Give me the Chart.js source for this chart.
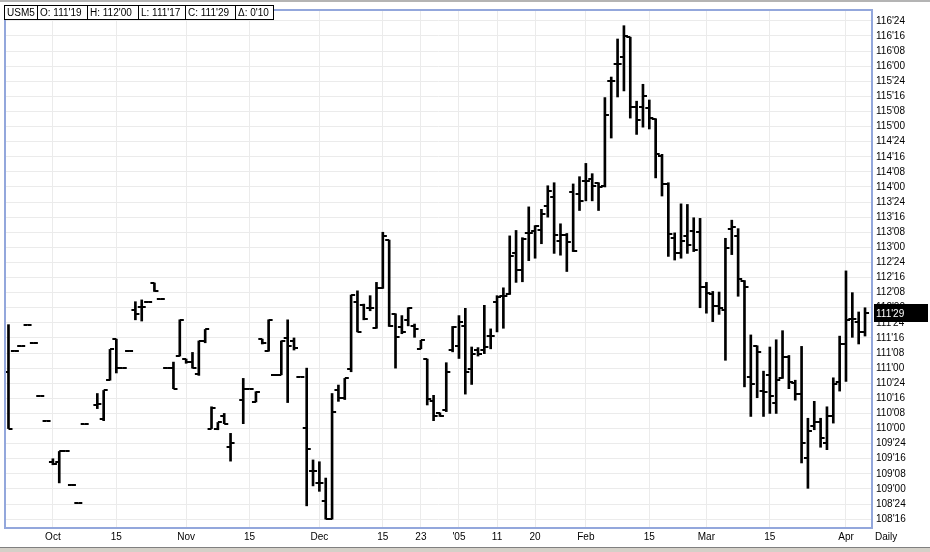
<!DOCTYPE html>
<html>
<head>
<meta charset="utf-8">
<script src="https://cdn.jsdelivr.net/npm/chart.js@4/dist/chart.umd.min.js"></script>
<style>
  html, body { margin: 0; padding: 0; background: #fff; }
  #wrap { width: 930px; height: 552px; }
</style>
</head>
<body>
<div id="wrap"><canvas id="chart" width="930" height="552"></canvas></div>
<script>
const symbol = "USM5";

// one entry per trading day, Sep 22 2004 .. Apr 6 2005 (null = no trade)
const opens = [
  110.93, 111.29, 111.36, 111.72, 111.41, 110.54, 110.13, 109.45, 109.45, 109.63,
  109.07, 108.76, 110.07, null, 110.39, 110.15, 110.8, 111.48, 111.0, 111.29,
  111.97, 112.02, 112.1, 112.41, 112.14, 111.0, 111.0, 111.2, 111.15, 111.1,
  110.9, 111.45, 110.0, 110.0, 110.2, 109.7, null, 110.48, 110.66, 110.44,
  111.48, 111.29, 110.89, 110.89, 111.5, 111.45, 110.86, 110.01, 109.3, 109.1,
  108.8, 108.5, 110.64, 110.5, 110.99, 112.1, 112.05, 112.0, 111.66, 112.32,
  113.12, 111.9, 111.68, 111.8, 111.7, 111.32, 111.15, 110.46, 110.25, 110.3,
  111.3, 111.37, 111.7, 110.99, 111.3, 111.3, 111.53, 112.1, 112.19, 112.22,
  112.9, 112.62, 113.23, 113.27, 113.29, 113.69, 113.84, 113.1, 113.2, 113.91,
  113.88, 114.1, 114.13, 114.07, 114.02, 115.75, 116.04, 116.15, 116.48, 115.33,
  115.33, 115.3, 115.13, 114.51, 114.05, 113.16, 112.91, 113.18, 113.27, 113.26,
  112.35, 112.22, 112.03, 111.97, 113.31, 113.18, 112.44, 110.85, 111.37, 110.62,
  110.89, 110.42, 110.83, 111.18, 110.76, 110.58, 109.51, 110.04, 110.1, 109.76,
  110.2, 110.77, 111.4, 111.81, 111.76, 111.59375
];
const highs = [
  111.72, 111.29, 111.36, 111.72, 111.41, 110.54, 110.13, 109.5, 109.62, 109.63,
  109.07, 108.76, 110.07, null, 110.58, 110.63, 111.31, 111.48, 111.0, 111.29,
  112.1, 112.13, 112.1, 112.41, 112.14, 111.0, 111.1, 111.8, 111.15, 111.26,
  111.45, 111.64, 110.36, 110.1, 110.25, 109.92, null, 110.83, 110.66, 110.61,
  111.48, 111.8, 110.89, 111.45, 111.8, 111.5, 110.86, 111.0, 109.48, 109.45,
  109.18, 110.58, 110.72, 110.83, 112.21, 112.28, 112.06, 112.2, 112.42, 113.25,
  113.12, 111.9, 111.87, 112.0, 111.73, 111.46, 111.15, 110.55, 110.26, 111.09,
  111.69, 111.87, 111.99, 111.35, 111.34, 112.04, 111.65, 112.2, 112.33, 113.19,
  113.28, 113.16, 113.67, 113.36, 113.63, 114.02, 114.07, 113.39, 113.23, 114.05,
  114.17, 114.39, 114.22, 114.07, 115.48, 115.82, 116.45, 116.67, 116.48, 115.42,
  115.7, 115.44, 115.13, 114.54, 114.07, 113.24, 113.72, 113.71, 113.49, 113.48,
  112.42, 112.27, 112.26, 113.15, 113.45, 113.31, 112.45, 111.55, 111.37, 110.95,
  111.35, 111.47, 111.62, 111.21, 110.8, 111.36, 110.17, 110.45, 110.17, 110.36,
  110.84, 111.53, 112.61, 112.25, 111.93, 112.0
];
const lows = [
  110.0, 111.29, 111.36, 111.72, 111.41, 110.54, 110.13, 109.4, 109.1, 109.63,
  109.07, 108.76, 110.07, null, 110.33, 110.13, 110.8, 110.92, 111.0, 111.29,
  111.8, 111.78, 112.1, 112.27, 112.14, 111.0, 110.66, 111.2, 111.08, 111.0,
  110.88, 111.42, 110.0, 109.98, 110.08, 109.46, null, 110.08, 110.66, 110.44,
  111.4, 111.28, 110.89, 110.89, 110.43, 111.3, 110.86, 108.72, 109.05, 108.96,
  108.5, 108.5, 110.45, 110.48, 110.94, 111.6, 111.8, 111.95, 111.66, 112.32,
  111.69, 111.0, 111.57, 111.7, 111.51, 111.32, 110.39, 110.13, 110.2, 110.28,
  111.27, 111.16, 110.57, 110.73, 111.2, 111.24, 111.32, 111.6, 111.66, 112.22,
  112.42, 112.43, 112.78, 112.82, 113.06, 113.5, 112.9, 112.87, 112.6, 112.93,
  113.61, 113.77, 113.77, 113.61, 114.0, 114.81, 115.49, 115.59, 115.14, 114.87,
  114.99, 114.96, 114.15, 113.85, 112.85, 112.79, 112.82, 112.9, 112.93, 112.0,
  111.91, 111.77, 111.89, 111.13, 112.88, 112.19, 110.69, 110.2, 110.51, 110.2,
  110.25, 110.25, 110.83, 110.66, 110.47, 109.43, 109.01, 109.98, 109.69, 109.65,
  110.09, 110.62, 110.78, 111.51, 111.4, 111.53125
];
const closes = [
  110.0, 111.29, 111.36, 111.72, 111.41, 110.54, 110.13, 109.42, 109.62, 109.63,
  109.07, 108.76, 110.07, null, 110.4, 110.63, 111.31, 111.0, 111.0, 111.29,
  111.9, 112.02, 112.1, 112.28, 112.14, 111.0, 110.66, 111.8, 111.1, 111.0,
  111.45, 111.64, 110.34, 110.1, 110.08, 109.76, null, 110.66, 110.66, 110.61,
  111.42, 111.8, 110.89, 111.45, 111.37, 111.34, 110.86, 109.66, 109.3, 109.1,
  108.5, 110.27, 110.5, 110.83, 112.21, 111.6, 111.82, 112.0, 112.32, 113.18,
  111.69, 111.51, 111.6, 112.0, 111.65, 111.46, 110.49, 110.2, 110.2, 110.93,
  111.68, 111.76, 110.94, 111.24, 111.24, 111.35, 111.53, 112.17, 112.19, 112.86,
  112.62, 113.14, 113.23, 113.36, 113.55, 113.94, 113.2, 113.2, 113.09, 112.94,
  113.76, 114.1, 114.02, 114.0, 115.19, 115.75, 116.04, 116.5, 115.33, 115.11,
  115.51, 115.14, 114.54, 114.05, 113.22, 112.91, 113.11, 113.04, 112.95, 112.35,
  112.24, 112.03, 111.99, 112.99, 113.34, 112.47, 112.35, 110.74, 111.26, 110.61,
  110.54, 110.8, 111.18, 110.77, 110.58, 109.76, 109.96, 110.1, 109.85, 110.2,
  110.74, 111.4, 111.79, 111.81, 111.59375, 111.90625
];

// date axis: bar index of each labelled day and its text
const tickIdx = [7, 17, 28, 38, 49, 59, 65, 71, 77, 83, 91, 101, 110, 120, 132];
const tickText = ["Oct", "15", "Nov", "15", "Dec", "15", "23", "'05", "11", "20", "Feb", "15", "Mar", "15", "Apr"];

// price axis, quoted in 32nds
const priceTickLo = 108.5;
const priceTickHi = 116.75;
const priceTickStep = 0.25;

const FONT = "'Liberation Sans', Arial, sans-serif";

function fmt32(v) {
  let w = Math.floor(v + 1e-9);
  let t = Math.round((v - w) * 32);
  if (t === 32) { w++; t = 0; }
  return w + "'" + String(t).padStart(2, "0");
}

const yTicks = [];
for (let p = priceTickLo; p <= priceTickHi + 1e-9; p += priceTickStep) yTicks.push(p);

// little open / close ticks used as point images
function tickImg(side) {
  const c = document.createElement("canvas");
  c.width = 10; c.height = 2;
  const g = c.getContext("2d");
  g.fillStyle = "#000";
  g.fillRect(side < 0 ? 1 : 5, 0, 4, 2);
  return c;
}

const hl = [], op = [], cl = [];
highs.forEach((h, i) => {
  if (h == null) return;
  hl.push({ x: i, y: [lows[i], h] });
  op.push({ x: i, y: opens[i] });
  cl.push({ x: i, y: closes[i] });
});

const decor = {
  id: "decor",
  beforeDraw(chart) {
    const ctx = chart.ctx;
    ctx.save();
    ctx.fillStyle = "#fff";
    ctx.fillRect(0, 0, chart.width, chart.height);
    ctx.restore();
  },
  afterDraw(chart) {
    const { ctx, chartArea: a } = chart;
    const y = chart.scales.y;
    ctx.save();

    // plot frame
    ctx.strokeStyle = "#93a7dc";
    ctx.lineWidth = 2;
    ctx.strokeRect(a.left, a.top, a.right - a.left, a.bottom - a.top);

    // window edges
    ctx.fillStyle = "#b4b4b4";
    ctx.fillRect(0, 0, chart.width, 2);
    ctx.fillStyle = "#d4d0c8";
    ctx.fillRect(0, 548, chart.width, 4);
    ctx.fillStyle = "#808080";
    ctx.fillRect(0, 547, chart.width, 1);

    // last price marker on the axis
    const n = closes.length;
    const last = closes[n - 1];
    const py = Math.round(y.getPixelForValue(last));
    ctx.fillStyle = "#000";
    ctx.fillRect(a.right + 2, py - 9, 54, 18);
    ctx.fillStyle = "#fff";
    ctx.font = "10px " + FONT;
    ctx.textBaseline = "middle";
    ctx.textAlign = "left";
    ctx.fillText(fmt32(last), a.right + 4, py + 1);

    // header boxes
    const cells = [
      symbol,
      "O: " + fmt32(opens[n - 1]),
      "H: " + fmt32(highs[n - 1]),
      "L: " + fmt32(lows[n - 1]),
      "C: " + fmt32(last),
      "\u0394: " + fmt32(last - closes[n - 2])
    ];
    const widths = [33, 50, 51, 47, 50, 38];
    let cx = 4.5;
    ctx.lineWidth = 1;
    ctx.strokeStyle = "#000";
    cells.forEach((t, k) => {
      ctx.fillStyle = "#fff";
      ctx.fillRect(cx, 5.5, widths[k], 14);
      ctx.strokeRect(cx, 5.5, widths[k], 14);
      ctx.fillStyle = "#000";
      ctx.fillText(t, cx + 2.5, 13);
      cx += widths[k];
    });

    // period label
    ctx.fillText("Daily", 875, 537);
    ctx.restore();
  }
};

new Chart(document.getElementById("chart"), {
  type: "bar",
  data: {
    datasets: [
      {
        type: "bar",
        data: hl,
        backgroundColor: "#000",
        borderWidth: 0,
        barThickness: 2,
        order: 2
      },
      {
        type: "scatter",
        data: op,
        pointStyle: tickImg(-1),
        pointRadius: 4,
        order: 1
      },
      {
        type: "scatter",
        data: cl,
        pointStyle: tickImg(1),
        pointRadius: 4,
        order: 1
      }
    ]
  },
  options: {
    responsive: false,
    animation: false,
    devicePixelRatio: 1,
    events: [],
    layout: { padding: { left: 4, top: 4, right: 0, bottom: 0 } },
    plugins: {
      legend: { display: false },
      tooltip: { enabled: false }
    },
    scales: {
      x: {
        type: "linear",
        min: -0.55,
        max: 136.1,
        offset: false,
        bounds: "data",
        afterBuildTicks: s => { s.ticks = tickIdx.map(v => ({ value: v })); },
        afterFit: s => { s.height = 24; },
        ticks: {
          autoSkip: false,
          maxRotation: 0,
          padding: 3,
          color: "#000",
          font: { family: FONT, size: 10 },
          callback: v => tickText[tickIdx.indexOf(v)]
        },
        grid: { color: "#ebebeb", drawTicks: false, offset: false },
        border: { display: false }
      },
      y: {
        position: "right",
        min: 108.353,
        max: 116.93,
        bounds: "data",
        afterBuildTicks: s => { s.ticks = yTicks.map(v => ({ value: v })); },
        afterFit: s => { s.width = 58; },
        ticks: {
          padding: 4,
          color: "#000",
          font: { family: FONT, size: 10 },
          callback: v => fmt32(v)
        },
        grid: { color: "#ebebeb", drawTicks: false },
        border: { display: false }
      }
    }
  },
  plugins: [decor]
});
</script>
</body>
</html>
